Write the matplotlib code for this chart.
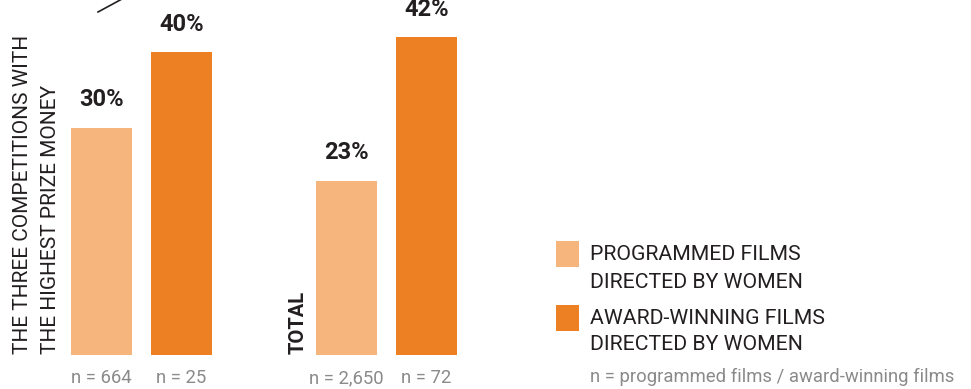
import matplotlib.pyplot as plt
from matplotlib.patches import Rectangle

# share of films directed by women, in percent
groups = ["top3", "total"]
programmed = [30, 23]
awarded = [40, 42]
programmed_n = ["n = 664", "n = 2,650"]
awarded_n = ["n = 25", "n = 72"]

light = "#F6B57C"
dark = "#EE8024"
ink = "#231F20"
grey = "#8A8A8A"

FONT = ["Roboto", "DejaVu Sans"]

W, H = 971, 389
fig = plt.figure(figsize=(W / 100, H / 100), dpi=100)

# axes: baseline at y=355px, 1% = 7.57px; x unit = 245px between groups
base = 355
px_per_pct = 7.57
ax = fig.add_axes([0, (H - base) / H, 1, base / H])
ax.set_ylim(0, base / px_per_pct)
unit = 245
c0 = 141.5
ax.set_xlim(-c0 / unit, (W - c0) / unit)
ax.axis("off")

off = 40 / unit
bw = 61 / unit
xs = range(len(groups))
for i in xs:
    for x, v, col, n in [(i - off, programmed[i], light, programmed_n[i]),
                         (i + off, awarded[i], dark, awarded_n[i])]:
        ax.bar(x, v, width=bw, color=col, linewidth=0)
        ax.annotate(f"{v}%", (x, v), xytext=(0, 28), textcoords="offset pixels",
                    ha="center", va="center", fontsize=17, fontweight="bold",
                    color=ink, family=FONT, annotation_clip=False)
        ax.annotate(n, (x, 0), xytext=(0, -23), textcoords="offset pixels",
                    ha="center", va="center", fontsize=13.3, color=grey,
                    family=FONT, annotation_clip=False)


def px(x, y):
    return x / W, 1 - y / H


# rotated group titles
fig.text(*px(23, 354), "THE THREE COMPETITIONS WITH", rotation=90,
         ha="center", va="bottom", fontsize=15, color=ink, family=FONT)
fig.text(*px(50, 354), "THE HIGHEST PRIZE MONEY", rotation=90,
         ha="center", va="bottom", fontsize=15, color=ink, family=FONT)
fig.text(*px(298, 354), "TOTAL", rotation=90, ha="center", va="bottom",
         fontsize=14.5, fontweight="bold", color=ink, family=FONT)

# pointer stroke at the top
fig.add_artist(plt.Line2D([98 / W, 122 / W], [1 - 12 / H, 1 + 1 / H],
                          color=ink, linewidth=1.2, transform=fig.transFigure))

# legend
legend = [(light, 241, ["PROGRAMMED FILMS", "DIRECTED BY WOMEN"], 255),
          (dark, 305, ["AWARD-WINNING FILMS", "DIRECTED BY WOMEN"], 318)]
for col, top, lines, ty in legend:
    x0, y0 = px(556, top + 26)
    fig.add_artist(Rectangle((x0, y0), 23 / W, 26 / H, color=col,
                             transform=fig.transFigure, linewidth=0))
    for k, line in enumerate(lines):
        fig.text(*px(590, ty + 27 * k), line, ha="left", va="center",
                 fontsize=15.3, color=ink, family=FONT)

fig.text(*px(590, 377), "n = programmed films / award-winning films",
         ha="left", va="center", fontsize=13.3, color=grey, family=FONT)

fig.savefig("out.png", dpi=100)
